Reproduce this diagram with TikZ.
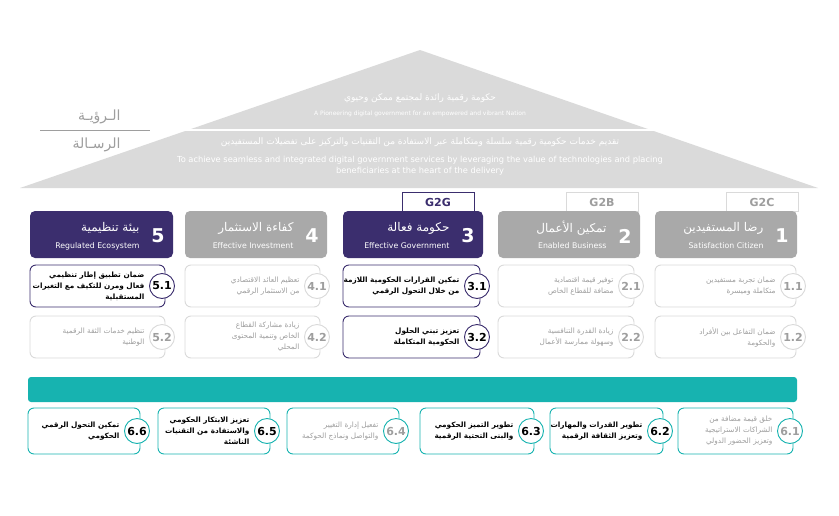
\documentclass[tikz,border=0pt]{standalone}
\usepackage{fontspec}
\setmainfont{DejaVu Sans}
\newfontfamily\arfont[Script=Arabic]{DejaVu Sans}
\usepackage{tikz}
\usetikzlibrary{positioning}
\TeXXeTstate=1
\definecolor{purp}{HTML}{3B2E6E}
\definecolor{hgrey}{HTML}{A9A9A9}
\definecolor{lgrey}{HTML}{DADADA}
\definecolor{tgrey}{HTML}{9E9E9E}
\definecolor{teal6}{HTML}{17B3B0}
\newcommand\ar[1]{{\arfont\beginR #1\endR}}
\tikzset{
  head/.style={rounded corners=5pt,fill=#1,draw=none},
  itembox/.style={rounded corners=6pt,draw=#1,fill=white,line width=0.9pt},
  numc/.style={circle,draw=#1,fill=white,line width=0.9pt,minimum size=25pt,inner sep=0,font=\bfseries\fontsize{11}{11}\selectfont},
  itxt/.style={anchor=east,align=right,font=\fontsize{7.3}{11}\selectfont},
  tab/.style={draw=lgrey,fill=white,minimum width=72pt,minimum height=19pt,font=\bfseries\fontsize{11}{11}\selectfont},
}
% box: left, right, top, bottom, number, border col, text col, text
\newcommand\pitem[8]{%
  \draw[itembox=#6] (#1,#3) rectangle (#2,#4);
  \node[numc=#6,text=#7] (n#5) at (#2-3,{(#3+#4)/2}) {#5};
  \node[itxt,text=#7] (t#5) at (#2-17,{(#3+#4)/2}) {#8};
}
\begin{document}
\begin{tikzpicture}[x=1pt,y=-1pt]
  \useasboundingbox (0,0) rectangle (839,515);
  % pyramid
  \fill[lgrey] (20,188) -- (420,50) -- (818,188) -- cycle;
  \draw[white,line width=1.2pt] (150,130) -- (690,130);
  \draw[tgrey,line width=0.6pt] (40,130) -- (150,130);
  \node[text=tgrey,font=\fontsize{14}{14}\selectfont,anchor=east] (vis) at (124,117) {\ar{الـرؤيـة}};
  \node[text=tgrey,font=\fontsize{14}{14}\selectfont,anchor=east] (mis) at (124,145) {\ar{الرسـالة}};
  \node[white,font=\fontsize{9}{9}\selectfont] (visar) at (420,98) {\ar{حكومة رقمية رائدة لمجتمع ممكن وحيوي}};
  \node[white,font=\fontsize{6}{6}\selectfont] (visen) at (420,114) {A Pioneering digital government for an empowered and vibrant Nation};
  \node[white,font=\fontsize{9}{9}\selectfont] (misar) at (420,142) {\ar{تقديم خدمات حكومية رقمية سلسلة ومتكاملة عبر الاستفادة من التقنيات والتركيز على تفضيلات المستفيدين}};
  \node[white,font=\fontsize{8.3}{11}\selectfont,align=center] (misen) at (420,166) {To achieve seamless and integrated digital government services by leveraging the value of technologies and placing\\beneficiaries at the heart of the delivery};
  % tabs
  \node[tab,draw=purp,text=purp] (g2g) at (438,202) {G2G};
  \node[tab,text=tgrey] (g2b) at (602,202) {G2B};
  \node[tab,text=tgrey] (g2c) at (762,202) {G2C};
  % pillar heads
  \foreach \xl/\xr/\col/\n/\arname/\enname in {
      30/173/purp/5/{بيئة تنظيمية}/{Regulated Ecosystem},
      185/327/hgrey/4/{كفاءة الاستثمار}/{Effective Investment},
      343/483/purp/3/{حكومة فعالة}/{Effective Government},
      498/640/hgrey/2/{تمكين الأعمال}/{Enabled Business},
      655/797/hgrey/1/{رضا المستفيدين}/{Satisfaction Citizen}} {
    \fill[head=\col] (\xl,211) rectangle (\xr,258);
    \node[white,font=\bfseries\fontsize{19}{19}\selectfont] (h\n) at (\xr-15,236) {\n};
    \node[white,anchor=east,font=\fontsize{12}{12}\selectfont] (ha\n) at (\xr-30,228) {\ar{\arname}};
    \node[white,anchor=east,font=\fontsize{7.8}{8}\selectfont] (he\n) at (\xr-30,246) {\enname};
  }
  % items rows 1-2
  \pitem{30}{165}{265}{307}{5.1}{purp}{black}{\textbf{\ar{ضمان تطبيق إطار تنظيمي}}\\\textbf{\ar{فعال ومرن للتكيف مع التغيرات}}\\\textbf{\ar{المستقبلية}}}
  \pitem{30}{165}{316}{358}{5.2}{lgrey}{tgrey}{\ar{تنظيم خدمات الثقة الرقمية}\\\ar{الوطنية}}
  \pitem{185}{320}{265}{307}{4.1}{lgrey}{tgrey}{\ar{تعظيم العائد الاقتصادي}\\\ar{من الاستثمار الرقمي}}
  \pitem{185}{320}{316}{358}{4.2}{lgrey}{tgrey}{\ar{زيادة مشاركة القطاع}\\\ar{الخاص وتنمية المحتوى}\\\ar{المحلي}}
  \pitem{343}{480}{265}{307}{3.1}{purp}{black}{\textbf{\ar{تمكين القرارات الحكومية اللازمة}}\\\textbf{\ar{من خلال التحول الرقمي}}}
  \pitem{343}{480}{316}{358}{3.2}{purp}{black}{\textbf{\ar{تعزيز تبني الحلول}}\\\textbf{\ar{الحكومية المتكاملة}}}
  \pitem{498}{634}{265}{307}{2.1}{lgrey}{tgrey}{\ar{توفير قيمة اقتصادية}\\\ar{مضافة للقطاع الخاص}}
  \pitem{498}{634}{316}{358}{2.2}{lgrey}{tgrey}{\ar{زيادة القدرة التنافسية}\\\ar{وسهولة ممارسة الأعمال}}
  \pitem{655}{796}{265}{307}{1.1}{lgrey}{tgrey}{\ar{ضمان تجربة مستفيدين}\\\ar{متكاملة وميسرة}}
  \pitem{655}{796}{316}{358}{1.2}{lgrey}{tgrey}{\ar{ضمان التفاعل بين الأفراد}\\\ar{والحكومة}}
  % enabler bar
  \fill[teal6,rounded corners=3pt] (28,377) rectangle (797,402);
  \pitem{28}{140}{408}{454}{6.6}{teal6}{black}{\textbf{\ar{تمكين التحول الرقمي}}\\\textbf{\ar{الحكومي}}}
  \pitem{158}{270}{408}{454}{6.5}{teal6}{black}{\textbf{\ar{تعزيز الابتكار الحكومي}}\\\textbf{\ar{والاستفادة من التقنيات}}\\\textbf{\ar{الناشئة}}}
  \pitem{287}{399}{408}{454}{6.4}{teal6}{tgrey}{\ar{تفعيل إدارة التغيير}\\\ar{والتواصل ونماذج الحوكمة}}
  \pitem{420}{534}{408}{454}{6.3}{teal6}{black}{\textbf{\ar{تطوير التميز الحكومي}}\\\textbf{\ar{والبنى التحتية الرقمية}}}
  \pitem{550}{663}{408}{454}{6.2}{teal6}{black}{\textbf{\ar{تطوير القدرات والمهارات}}\\\textbf{\ar{وتعزيز الثقافة الرقمية}}}
  \pitem{678}{793}{408}{454}{6.1}{teal6}{tgrey}{\ar{خلق قيمة مضافة من}\\\ar{الشراكات الاستراتيجية}\\\ar{وتعزيز الحضور الدولي}}
\end{tikzpicture}
\end{document}
